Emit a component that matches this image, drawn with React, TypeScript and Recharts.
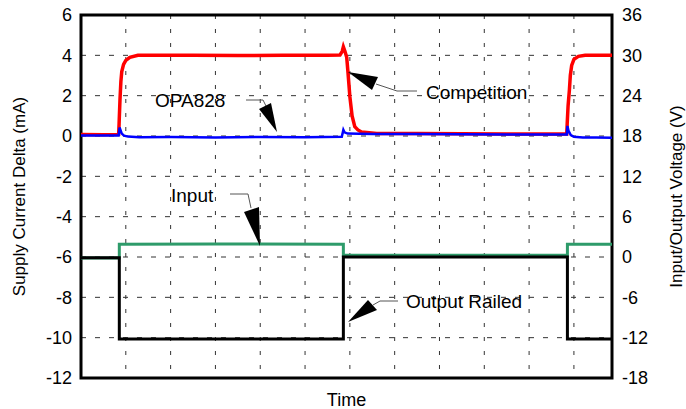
import React from 'react';
import { LineChart, Line, XAxis, YAxis, CartesianGrid, ReferenceArea } from 'recharts';

// time axis in grid divisions (the scope capture has 11 vertical grid lines, 0..10)
const timeTicks = [0, 1, 2, 3, 4, 5, 6, 7, 8, 9, 10];
const currentTicks = [-12, -10, -8, -6, -4, -2, 0, 2, 4, 6];
const voltageTicks = [-18, -12, -6, 0, 6, 12, 18, 24, 30, 36];

// Competition supply current (mA)
const competitionTime = [-1.0, -0.5, -0.16, -0.15, -0.13, -0.11, -0.09, -0.05, 0.0, 0.09, 0.27, 1.5, 2.5, 3.5, 4.5, 4.78, 4.83, 4.855, 4.89, 4.93, 4.96, 5.0, 5.05, 5.11, 5.18, 5.26, 5.6, 6.5, 7.5, 8.5, 9.5, 9.84, 9.85, 9.87, 9.9, 9.92, 9.95, 10.0, 10.1, 10.25, 10.85];
const competitionCurrent = [0.08, 0.06, 0.08, 0.6, 1.8, 2.7, 3.2, 3.55, 3.75, 3.9, 4.0, 4.0, 3.99, 4.0, 4.0, 4.02, 4.2, 4.42, 4.2, 3.9, 3.1, 1.95, 1.0, 0.46, 0.3, 0.2, 0.12, 0.12, 0.11, 0.1, 0.1, 0.1, 0.6, 1.5, 2.3, 3.0, 3.5, 3.8, 3.95, 4.0, 4.0];

// OPA828 supply current (mA)
const opaTime = [-1.0, -0.5, -0.16, -0.14, -0.12, -0.09, -0.04, 0.05, 0.3, 1.0, 2.0, 3.0, 4.0, 4.82, 4.855, 4.88, 4.95, 5.5, 6.5, 7.5, 8.5, 9.5, 9.84, 9.855, 9.88, 9.93, 10.0, 10.2, 10.5, 10.85];
const opaCurrent = [0.03, 0.03, 0.03, 0.42, 0.3, 0.12, 0.02, -0.03, -0.06, -0.05, -0.07, -0.05, -0.06, -0.04, 0.3, 0.18, 0.12, 0.1, 0.1, 0.09, 0.08, 0.08, 0.07, 0.5, 0.25, 0.05, -0.04, -0.07, -0.08, -0.09];

// Input and output voltages (V)
const inputTime = [-1.0, -0.145, -0.145, 2.0, 4.855, 4.855, 9.855, 9.855, 10.85];
const inputVoltage = [-0.15, -0.15, 1.9, 1.95, 1.9, 0.25, 0.25, 1.9, 1.9];
const outputTime = [-1.0, -0.145, -0.145, 4.855, 4.855, 9.855, 9.855, 10.85];
const outputVoltage = [-0.1, -0.1, -12.2, -12.2, 0.0, 0.0, -12.2, -12.2];

const zip = (ts: number[], vs: number[]) => ts.map((t, i) => ({ t, v: vs[i] }));

const competitionData = zip(competitionTime, competitionCurrent);
const opaData = zip(opaTime, opaCurrent);
const inputData = zip(inputTime, inputVoltage);
const outputData = zip(outputTime, outputVoltage);

const FONT = 'Arial, "Liberation Sans", sans-serif';
const tickStyle = { fill: '#000', fontSize: 18, fontFamily: FONT };

const Annotations = () => (
  <svg width={686} height={409} style={{ position: 'absolute', left: 0, top: 0, pointerEvents: 'none' }}>
    <g fontFamily={FONT} fontSize={19} fill="#000">
      <text x={155} y={107}>OPA828</text>
      <text x={426} y={99}>Competition</text>
      <text x={171} y={202}>Input</text>
      <text x={406} y={308}>Output Railed</text>
    </g>
    <g stroke="#555" strokeWidth={1} fill="none">
      <polyline points="246,100 263,100 266,106" />
      <polyline points="417,91 397,91 376,84" />
      <polyline points="230,194 248,194 251,208" />
      <polyline points="398,301 380,301 373,305" />
    </g>
    <g fill="#000">
      <polygon points="259,109 271,103 277,132" />
      <polygon points="348,72 378,77 372,90" />
      <polygon points="244,212 259,207 260,246" />
      <polygon points="368,300 377,310 348,322" />
    </g>
  </svg>
);

export default function App() {
  return (
    <div style={{ position: 'absolute', left: 0, top: 0, width: 686, height: 409, background: '#fff', fontFamily: FONT }}>
      <LineChart width={686} height={409} margin={{ top: 15, right: 0, bottom: 0, left: 0 }}>
        <CartesianGrid yAxisId="mA" vertical={false} stroke="#333" strokeDasharray="5 9" />
        <CartesianGrid yAxisId="mA" horizontal={false} stroke="#333" strokeDasharray="4 10" />
        <XAxis
          dataKey="t"
          type="number"
          domain={[-1, 10.85]}
          ticks={timeTicks}
          allowDataOverflow
          tick={{ fontSize: 1, fill: 'none' }}
          tickFormatter={() => ''}
          tickLine={false}
          axisLine={false}
          height={31}
          label={{ value: 'Time', position: 'insideBottom', offset: 3, fill: '#000', fontSize: 18 }}
        />
        <YAxis
          yAxisId="mA"
          type="number"
          domain={[-12, 6]}
          ticks={currentTicks}
          width={81}
          tick={tickStyle}
          tickLine={false}
          tickSize={0}
          tickMargin={9}
          axisLine={false}
          label={{ value: 'Supply Current Delta (mA)', angle: -90, position: 'insideLeft', offset: 19, dx: 0, fill: '#000', fontSize: 17, style: { textAnchor: 'middle' } }}
        />
        <YAxis
          yAxisId="V"
          orientation="right"
          type="number"
          domain={[-18, 36]}
          ticks={voltageTicks}
          width={74}
          tick={tickStyle}
          tickLine={false}
          tickSize={0}
          tickMargin={10}
          axisLine={false}
          label={{ value: 'Input/Output Voltage (V)', angle: -90, position: 'insideRight', offset: 10, fill: '#000', fontSize: 17, style: { textAnchor: 'middle' } }}
        />
        <Line yAxisId="V" data={inputData} dataKey="v" stroke="#2e9b6a" strokeWidth={3} dot={false} type="linear" isAnimationActive={false} />
        <Line yAxisId="V" data={outputData} dataKey="v" stroke="#000" strokeWidth={3} dot={false} type="linear" isAnimationActive={false} />
        <Line yAxisId="mA" data={competitionData} dataKey="v" stroke="#ff0000" strokeWidth={3.5} dot={false} type="linear" isAnimationActive={false} />
        <Line yAxisId="mA" data={opaData} dataKey="v" stroke="#0000ff" strokeWidth={2.5} dot={false} type="linear" isAnimationActive={false} />
        <ReferenceArea yAxisId="mA" x1={-1} x2={10.85} y1={-12} y2={6} fill="none" stroke="#000" strokeWidth={3} ifOverflow="visible" />
      </LineChart>
      <Annotations />
    </div>
  );
}
